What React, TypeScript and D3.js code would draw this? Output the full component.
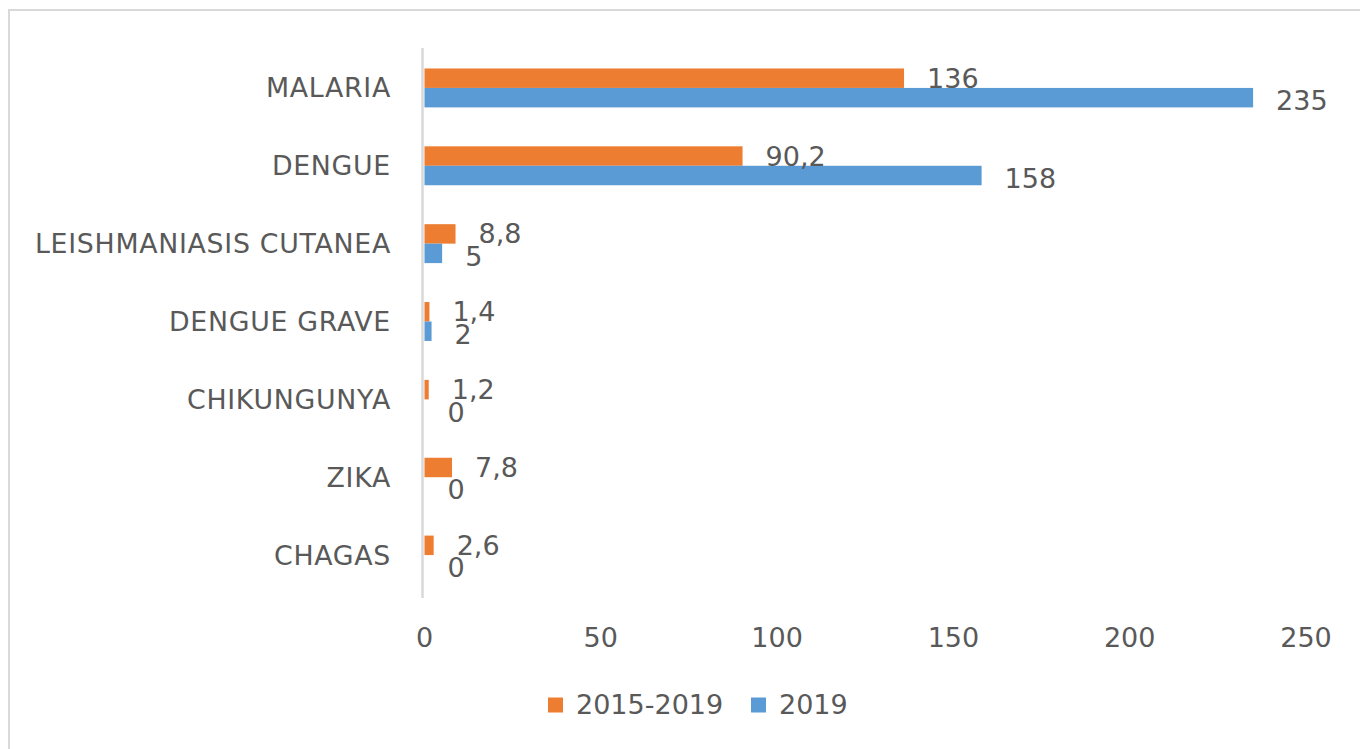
import React from "react";
import * as d3 from "d3";

const categories = ["MALARIA", "DENGUE", "LEISHMANIASIS CUTANEA", "DENGUE GRAVE", "CHIKUNGUNYA", "ZIKA", "CHAGAS"];
const seriesNames = ["2015-2019", "2019"];
const values2015_2019 = [136, 90.2, 8.8, 1.4, 1.2, 7.8, 2.6];
const values2019 = [235, 158, 5, 2, 0, 0, 0];
const xTicks = [0, 50, 100, 150, 200, 250];
const colors = ["#ED7D31", "#5B9BD5"];

const W = 1360;
const H = 749;
const FONT = "'DejaVu Sans', sans-serif";
const TEXT = "#595959";

const fmt = (v: number) => String(v).replace(".", ",");

export default function App() {
  const x = d3.scaleLinear().domain([0, 250]).range([424.5, 1306]);
  const y = d3.scaleBand<string>().domain(categories).range([49, 594]).paddingInner(0.5).paddingOuter(0.25);
  const sub = d3.scaleBand<string>().domain(seriesNames).range([0, y.bandwidth()]);
  const series = [values2015_2019, values2019];

  return (
    <div style={{ position: "absolute", left: 0, top: 0 }}>
      <svg width={W} height={H} style={{ display: "block", background: "#fff" }}>
        <rect x={9} y={10} width={1400} height={800} fill="#fff" stroke="#d9d9d9" strokeWidth={2} />
        {categories.map((c, i) => (
          <g key={c}>
            {series.map((vals, s) => (
              <rect
                key={s}
                x={x(0)}
                y={(y(c) as number) + (sub(seriesNames[s]) as number)}
                width={Math.max(0, x(vals[i]) - x(0))}
                height={sub.bandwidth()}
                fill={colors[s]}
              />
            ))}
          </g>
        ))}
        <line x1={422.5} x2={422.5} y1={48} y2={598} stroke="#d9d9d9" strokeWidth={2.5} />
        {categories.map((c) => (
          <text
            key={c}
            x={391}
            y={(y(c) as number) + y.bandwidth() / 2}
            textAnchor="end"
            dominantBaseline="central"
            fontFamily={FONT}
            fontSize={26.8}
            letterSpacing={0.7}
            fill={TEXT}
          >
            {c}
          </text>
        ))}
        {categories.map((c, i) =>
          series.map((vals, s) => (
            <text
              key={c + s}
              x={x(vals[i]) + 23}
              y={(y(c) as number) + (sub(seriesNames[s]) as number) + sub.bandwidth() / 2 + (s === 0 ? 0 : 3)}
              dominantBaseline="central"
              fontFamily={FONT}
              fontSize={27}
              fill={TEXT}
            >
              {fmt(vals[i])}
            </text>
          ))
        )}
        {xTicks.map((t) => (
          <text
            key={t}
            x={x(t)}
            y={637}
            textAnchor="middle"
            dominantBaseline="central"
            fontFamily={FONT}
            fontSize={27}
            fill={TEXT}
          >
            {t}
          </text>
        ))}
        {seriesNames.map((n, s) => {
          const lx = s === 0 ? 548 : 751;
          return (
            <g key={n}>
              <rect x={lx} y={697.5} width={15} height={15} fill={colors[s]} />
              <text x={lx + 28} y={704} dominantBaseline="central" fontFamily={FONT} fontSize={27} fill={TEXT}>
                {n}
              </text>
            </g>
          );
        })}
      </svg>
    </div>
  );
}
